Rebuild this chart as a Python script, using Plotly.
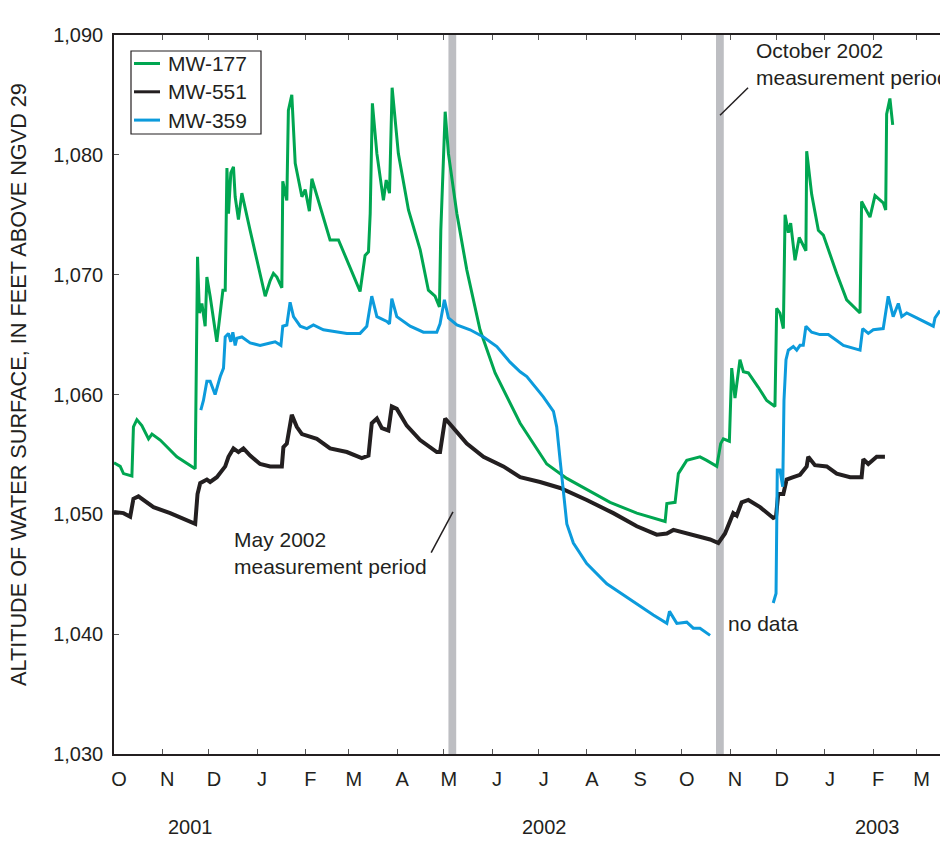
import pandas as pd
import plotly.graph_objects as go

# ---------------- data ----------------
START = "2001-10-01"          # day 0 of the record
AXIS_END_DAY = 531            # right edge of the plot (mid-March 2003)

# MW-177 (green)
MW177_DAY = [0, 4.0, 6.1, 11.5, 12.5, 14.7, 17.9, 22.2, 24.4, 29.7, 40.4, 52.2, 53.7, 54.9, 56.5, 58.6,
             59.7, 61.8, 66.1, 68.3, 70.0, 71.5, 72.6, 73.6, 75.1, 76.8, 77.9, 80.0, 82.2, 87.5, 97.2,
             100.4, 102.5, 104.7, 107.9, 108.5, 111.1, 112.1, 114.3, 116.5, 120.8, 122.9, 125.6, 127.2,
             131.4, 138.9, 141.1, 144.3, 158.2, 161.4, 163.6, 164.7, 166.1, 169.0, 173.2, 175.0, 177.1,
             178.8, 182.8, 189.3, 196.8, 202.1, 206.4, 209.2, 210.1, 212.9, 215.0, 220.4, 226.8, 235.3,
             245.0, 261.1, 278.2, 291.1, 318.9, 336.1, 354.3, 355.4, 360.7, 362.8, 368.2, 376.7, 381.0,
             387.5, 390.0, 391.7, 395.6, 397.1, 399.2, 402.4, 404.6, 407.8, 414.2, 419.6, 424.9, 426.0,
             428.1, 430.3, 431.4, 433.5, 435.0, 437.8, 440.5, 444.8, 445.3, 448.5, 452.8, 456.0, 464.6,
             471.0, 479.6, 480.6, 486.0, 489.2, 494.5, 496.1, 496.7, 498.8, 500.6]
MW177_FT = [1054.3, 1054.0, 1053.4, 1053.2, 1057.3, 1057.9, 1057.4, 1056.3, 1056.7, 1056.2, 1054.8, 1053.8,
            1071.5, 1066.8, 1067.6, 1065.7, 1069.8, 1068.2, 1064.4, 1067.0, 1068.7, 1068.7, 1078.9, 1075.1,
            1078.5, 1079.0, 1076.5, 1074.6, 1076.8, 1073.7, 1068.2, 1069.5, 1070.1, 1069.8, 1068.9, 1077.8,
            1076.2, 1083.7, 1085.0, 1079.3, 1076.5, 1077.1, 1075.3, 1078.0, 1076.2, 1072.9, 1072.9, 1072.9,
            1068.6, 1071.6, 1071.9, 1075.1, 1084.3, 1080.1, 1076.2, 1077.9, 1076.8, 1085.6, 1080.1, 1075.4,
            1072.1, 1068.7, 1068.2, 1067.3, 1073.7, 1083.6, 1080.1, 1075.1, 1070.4, 1065.4, 1061.8, 1057.6,
            1054.2, 1053.0, 1051.0, 1050.1, 1049.4, 1050.9, 1051.0, 1053.4, 1054.5, 1054.8, 1054.5, 1054.0,
            1055.9, 1056.3, 1056.1, 1062.2, 1059.7, 1062.9, 1061.9, 1061.8, 1060.6, 1059.5, 1059.0, 1067.2,
            1066.8, 1065.5, 1075.0, 1073.5, 1074.3, 1071.2, 1073.1, 1072.0, 1080.3, 1076.7, 1073.7, 1073.3,
            1070.1, 1067.9, 1066.8, 1076.1, 1074.8, 1076.6, 1076.0, 1075.4, 1083.4, 1084.7, 1082.5]

# MW-551 (black)
MW551_DAY = [0, 6.1, 10.4, 12.5, 15.7, 19.0, 25.4, 36.1, 52.2, 53.7, 55.4, 59.7, 61.8, 66.1, 71.5, 73.6,
             76.8, 80.0, 83.2, 87.5, 93.9, 100.4, 107.9, 108.9, 111.1, 114.3, 117.5, 120.8, 126.1, 130.4,
             138.9, 149.7, 159.3, 163.6, 165.7, 169.0, 172.2, 176.4, 178.6, 181.8, 188.2, 196.8, 207.5,
             209.6, 212.9, 218.2, 226.8, 237.5, 250.3, 261.1, 273.9, 286.8, 303.9, 321.0, 336.1, 348.9,
             355.4, 359.6, 368.2, 376.7, 383.2, 388.5, 392.8, 398.1, 400.3, 403.5, 407.8, 415.3, 423.8,
             425.6, 427.0, 430.3, 432.4, 436.7, 441.0, 445.3, 446.3, 450.6, 458.2, 464.6, 473.2, 480.6,
             481.7, 484.9, 490.3, 495.6]
MW551_FT = [1050.2, 1050.1, 1049.8, 1051.3, 1051.5, 1051.2, 1050.6, 1050.1, 1049.2, 1051.7, 1052.6, 1052.9,
            1052.7, 1053.1, 1054.0, 1054.8, 1055.5, 1055.2, 1055.5, 1054.9, 1054.2, 1054.0, 1054.0, 1055.6,
            1055.9, 1058.3, 1057.3, 1056.7, 1056.5, 1056.3, 1055.5, 1055.2, 1054.7, 1054.9, 1057.6, 1058.0,
            1057.2, 1057.0, 1059.0, 1058.8, 1057.4, 1056.2, 1055.2, 1055.2, 1058.0, 1057.2, 1055.9, 1054.8,
            1054.0, 1053.1, 1052.7, 1052.2, 1051.2, 1050.1, 1049.0, 1048.3, 1048.4, 1048.7, 1048.4, 1048.1,
            1047.9, 1047.6, 1048.4, 1050.1, 1049.9, 1051.0, 1051.2, 1050.6, 1049.7, 1049.8, 1051.7, 1051.7,
            1052.9, 1053.1, 1053.3, 1054.0, 1054.8, 1054.1, 1054.0, 1053.4, 1053.1, 1053.1, 1054.6, 1054.2,
            1054.8, 1054.8]

# MW-359 (blue) -- None marks the "no data" gap
MW359_DAY = [55.8, 57.5, 59.7, 61.8, 65.0, 68.3, 70.4, 71.5, 73.6, 75.1, 76.4, 77.9, 79.0, 82.2, 87.5, 93.9,
             100.4, 103.6, 107.3, 108.5, 111.1, 113.2, 115.4, 119.7, 124.0, 128.2, 134.6, 138.9, 149.7,
             158.2, 162.5, 165.7, 169.0, 175.4, 177.1, 178.6, 181.8, 190.4, 198.9, 207.5, 209.6, 212.4,
             215.0, 220.4, 228.9, 237.5, 246.1, 254.6, 261.1, 265.4, 276.0, 282.5, 284.6, 286.8, 288.9,
             291.1, 295.3, 303.9, 316.8, 333.9, 346.7, 355.4, 357.1, 361.8, 368.2, 372.4, 376.7, 383.2,
             None,
             423.8, 425.6, 426.4, 428.1, 429.9, 430.7, 432.0, 433.5, 436.7, 438.9, 441.0, 443.1, 444.8,
             448.5, 453.8, 459.2, 464.6, 468.9, 479.6, 481.3, 484.9, 488.1, 494.5, 497.7, 500.9, 504.2,
             506.4, 509.6, 516.0, 526.7, 527.8, 531.0]
MW359_FT = [1058.7, 1059.5, 1061.1, 1061.1, 1060.0, 1061.5, 1062.2, 1064.8, 1065.1, 1064.4, 1065.2, 1064.1,
            1064.7, 1064.8, 1064.3, 1064.1, 1064.3, 1064.4, 1064.1, 1065.7, 1065.8, 1067.7, 1066.5, 1065.7,
            1065.5, 1065.8, 1065.4, 1065.3, 1065.1, 1065.1, 1065.7, 1068.2, 1066.5, 1066.1, 1065.9, 1068.0,
            1066.5, 1065.7, 1065.2, 1065.2, 1065.9, 1067.9, 1066.4, 1065.8, 1065.4, 1064.8, 1064.0, 1062.7,
            1061.9, 1061.5, 1059.8, 1058.6, 1057.3, 1054.5, 1051.7, 1049.2, 1047.6, 1045.9, 1044.2, 1042.7,
            1041.6, 1040.9, 1041.9, 1040.9, 1041.0, 1040.5, 1040.5, 1039.9,
            None,
            1042.6, 1043.4, 1053.7, 1053.7, 1052.3, 1059.5, 1062.9, 1063.7, 1064.0, 1063.7, 1064.1, 1064.1,
            1065.7, 1065.2, 1065.0, 1065.0, 1064.5, 1064.1, 1063.7, 1065.5, 1065.1, 1065.4, 1065.5, 1068.2,
            1066.5, 1067.6, 1066.5, 1066.8, 1066.4, 1065.7, 1066.4, 1067.0]

SERIES_NAMES = ["MW-177", "MW-551", "MW-359"]

# measurement periods (grey bands)
PERIOD_START = ["2002-05-04", "2002-10-23"]
PERIOD_END = ["2002-05-09", "2002-10-28"]

# month ticks
MONTH_TICKS = ["2001-10-01", "2001-11-01", "2001-12-01", "2002-01-01", "2002-02-01", "2002-03-01",
               "2002-04-01", "2002-05-01", "2002-06-01", "2002-07-01", "2002-08-01", "2002-09-01",
               "2002-10-01", "2002-11-01", "2002-12-01", "2003-01-01", "2003-02-01", "2003-03-01"]
MONTH_LABELS = ["O", "N", "D", "J", "F", "M", "A", "M", "J", "J", "A", "S", "O", "N", "D", "J", "F", "M"]
YEAR_LABELS = ["2001", "2002", "2003"]
YEAR_POS = ["2001-11-19", "2002-07-05", "2003-02-04"]
Y_TICKS = [1030, 1040, 1050, 1060, 1070, 1080, 1090]

# ---------------- helpers ----------------
t0 = pd.Timestamp(START)


def to_dates(days):
    return [None if d is None else t0 + pd.Timedelta(days=d) for d in days]


# layout geometry (pixels)
W, H = 940, 845
ML, MR, MT, MB = 114, 0, 35, 91
PW, PH = W - ML - MR, H - MT - MB


def px_x(px):
    return (px - ML) / PW


def px_y(py):
    return (H - MB - py) / PH


FONT = "Arial, 'Liberation Sans', Helvetica, sans-serif"
INK = "#231f20"
GREEN = "#00a651"
BLUE = "#0c9bdc"
COLORS = [GREEN, INK, BLUE]
WIDTHS = [3, 4, 3]

fig = go.Figure()
for name, days, vals, col, wd in zip(SERIES_NAMES, [MW177_DAY, MW551_DAY, MW359_DAY],
                                     [MW177_FT, MW551_FT, MW359_FT], COLORS, WIDTHS):
    fig.add_trace(go.Scatter(x=to_dates(days), y=vals, mode="lines", name=name,
                             line=dict(color=col, width=wd), connectgaps=False, showlegend=False))

for s, e in zip(PERIOD_START, PERIOD_END):
    fig.add_vrect(x0=s, x1=e, fillcolor="#bdbec2", line_width=0, layer="below", opacity=1)

# leader lines
fig.add_shape(type="line", x0=t0 + pd.Timedelta(days=389.6), y0=1083.3,
              x1=t0 + pd.Timedelta(days=407.6), y1=1085.6, line=dict(color=INK, width=1.5))
fig.add_shape(type="line", x0=t0 + pd.Timedelta(days=203.9), y0=1046.8,
              x1=t0 + pd.Timedelta(days=217.9), y1=1050.2, line=dict(color=INK, width=1.5))

# legend box (drawn)
fig.add_shape(type="rect", xref="paper", yref="paper", x0=px_x(131), x1=px_x(261),
              y0=px_y(134), y1=px_y(51), line=dict(color=INK, width=1.2), fillcolor="white")
for i, (name, col, wd) in enumerate(zip(SERIES_NAMES, COLORS, WIDTHS)):
    yy = 63.5 + i * 28.3
    fig.add_shape(type="line", xref="paper", yref="paper", x0=px_x(134), x1=px_x(160),
                  y0=px_y(yy), y1=px_y(yy), line=dict(color=col, width=3))
    fig.add_annotation(x=px_x(166), y=px_y(yy), xref="paper", yref="paper", text=name,
                       showarrow=False, xanchor="left", yanchor="middle",
                       font=dict(family=FONT, size=21, color=INK))

ann_font = dict(family=FONT, size=21, color=INK)
fig.add_annotation(x=t0 + pd.Timedelta(days=411.4), y=1089.8, xref="x", yref="y",
                   text="October 2002<br>measurement period", showarrow=False,
                   xanchor="left", yanchor="top", align="left", font=ann_font)
fig.add_annotation(x=t0 + pd.Timedelta(days=76.0), y=1049.0, xref="x", yref="y",
                   text="May 2002<br>measurement period", showarrow=False,
                   xanchor="left", yanchor="top", align="left", font=ann_font)
fig.add_annotation(x=t0 + pd.Timedelta(days=393.5), y=1040.9, xref="x", yref="y",
                   text="no data", showarrow=False, xanchor="left", yanchor="middle", font=ann_font)

for lab, pos in zip(YEAR_LABELS, YEAR_POS):
    fig.add_annotation(x=pos, y=-0.101, xref="x", yref="paper", text=lab, showarrow=False,
                       xanchor="center", yanchor="middle", font=dict(family=FONT, size=20, color=INK))

fig.add_annotation(x=px_x(18), y=px_y(385), xref="paper", yref="paper",
                   text="ALTITUDE OF WATER SURFACE, IN FEET ABOVE NGVD 29", textangle=-90,
                   showarrow=False, xanchor="center", yanchor="middle",
                   font=dict(family=FONT, size=21.7, color=INK))

fig.update_layout(
    width=W, height=H,
    margin=dict(l=ML, r=MR, t=MT, b=MB),
    paper_bgcolor="white", plot_bgcolor="white",
    font=dict(family=FONT, size=20, color=INK),
    showlegend=False,
    xaxis=dict(type="date", range=[t0, t0 + pd.Timedelta(days=AXIS_END_DAY)],
               tickmode="array", tickvals=MONTH_TICKS, ticktext=MONTH_LABELS,
               ticks="inside", ticklen=5, tickwidth=1, tickcolor="#555555",
               showline=True, linecolor=INK, linewidth=1.5, mirror="ticks",
               showgrid=False, zeroline=False,
               tickfont=dict(family=FONT, size=20, color=INK),
               ticklabelshift=5, ticklabelstandoff=6),
    yaxis=dict(range=[1030, 1090], tickmode="array", tickvals=Y_TICKS, tickformat=",",
               ticks="inside", ticklen=5, tickwidth=1, tickcolor="#555555",
               showline=True, linecolor=INK, linewidth=1.5, mirror=False,
               showgrid=False, zeroline=False,
               tickfont=dict(family=FONT, size=20, color=INK),
               ticklabelstandoff=5),
)

fig.write_html("out.html", config={"displayModeBar": False},
               post_script="document.body.style.margin='0';")
